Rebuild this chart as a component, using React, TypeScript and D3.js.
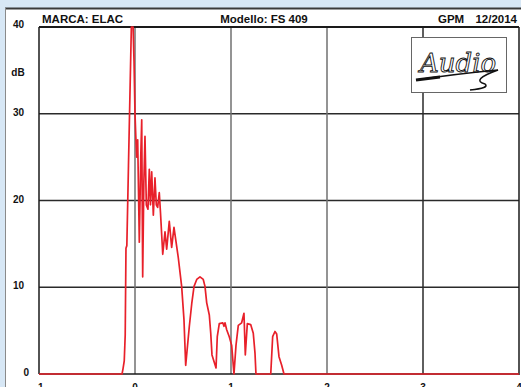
import React from "react";
import * as d3 from "d3";

const times: number[] = [
  -1, -0.135, -0.125, -0.112, -0.102, -0.094, -0.085, -0.068, -0.038, -0.02, -0.01, 0.0,
  0.008, 0.018, 0.028, 0.045, 0.06, 0.07, 0.08, 0.092, 0.104, 0.118, 0.135, 0.149, 0.161,
  0.174, 0.191, 0.208, 0.222, 0.236, 0.253, 0.266, 0.289, 0.3125, 0.33, 0.357, 0.382, 0.406,
  0.451, 0.486, 0.51, 0.528, 0.566, 0.591, 0.615, 0.643, 0.677, 0.711, 0.729, 0.747, 0.774,
  0.789, 0.802, 0.844, 0.857, 0.878, 0.914, 0.927, 0.9375, 0.955, 0.982, 1.007, 1.031, 1.052,
  1.076, 1.111, 1.135, 1.149, 1.17, 1.205, 1.232, 1.25, 1.26, 1.414, 1.434, 1.458, 1.476, 1.5,
  1.528, 1.552, 4,
];
const levels: number[] = [
  0, 0, 0.6, 1.5, 4.5, 14.5, 14.8, 24, 40, 40, 36, 30,
  27.5, 25, 27, 15.2, 25, 29.3, 11.2, 22, 27.4, 19.5, 19, 23.6, 19.5,
  23.3, 18.3, 22.6, 19.5, 19.2, 20.9, 18.5, 13.8, 16.4, 14.4, 17.6, 14.6, 16.9,
  13.4, 10.1, 6.3, 1.0, 5.5, 8.1, 10.1, 10.9, 11.2, 10.9, 10.1, 8.2, 6.8,
  4.7, 2.2, 0.7, 4.3, 5.8, 5.9, 5.5, 5.9, 5.1, 4.3, 3.3, 0, 3.3,
  5.6, 5.9, 7.0, 2.2, 5.8, 5.7, 4.7, 2.4, 0, 0, 4.3, 4.9, 4.6, 2.0,
  1.0, 0, 0,
];
const xTicks: number[] = [-1, 0, 1, 2, 3, 4];
const yTicks: number[] = [0, 10, 20, 30, 40];
const titleLeft = "MARCA: ELAC";
const titleCenter = "Modello: FS 409";
const titleRightA = "GPM";
const titleRightB = "12/2014";
const unitLabel = "dB";

export default function App() {
  const W = 521;
  const H = 387;
  const x = d3.scaleLinear().domain([-1, 4]).range([39, 519]);
  const y = d3.scaleLinear().domain([0, 40]).range([374, 27]);
  const pts: [number, number][] = times.map((t, i) => [t, levels[i]]);
  const line = d3
    .line<[number, number]>()
    .x((d) => x(d[0]))
    .y((d) => y(d[1]));
  const font = "'Liberation Sans', Arial, sans-serif";
  return (
    <svg
      width={W}
      height={H}
      style={{ position: "absolute", left: 0, top: 0, display: "block" }}
    >
      <rect x={0} y={0} width={W} height={H} fill="#d7e7f5" />
      <rect x={5} y={8} width={W} height={H} fill="#ffffff" />
      <line x1={5} x2={W} y1={8.5} y2={8.5} stroke="#3a3a3a" strokeWidth={2} />
      <line x1={5.5} x2={5.5} y1={8} y2={H} stroke="#8a8a8a" strokeWidth={1} />

      {/* horizontal grid */}
      {yTicks
        .filter((t) => t > 0 && t < 40)
        .map((t) => (
          <line
            key={"h" + t}
            x1={x(-1)}
            x2={x(4)}
            y1={y(t)}
            y2={y(t)}
            stroke="#2a2a2a"
            strokeWidth={1.5}
          />
        ))}
      {/* vertical grid */}
      {xTicks
        .filter((t) => t > -1 && t < 4)
        .map((t) => (
          <line
            key={"v" + t}
            x1={x(t)}
            x2={x(t)}
            y1={y(40)}
            y2={y(0)}
            stroke={t === 3 ? "#2a2a2a" : "#707070"}
            strokeWidth={1.5}
          />
        ))}
      {/* frame */}
      <line x1={x(-1)} x2={x(4)} y1={y(40)} y2={y(40)} stroke="#1a1a1a" strokeWidth={2} />
      <line x1={x(-1)} x2={x(-1)} y1={y(40)} y2={y(0)} stroke="#1a1a1a" strokeWidth={1.5} />
      <line x1={x(4)} x2={x(4)} y1={y(40)} y2={y(0) + 1} stroke="#1a1a1a" strokeWidth={1.5} />
      <line x1={x(-1)} x2={x(4)} y1={y(0)} y2={y(0)} stroke="#1a1a1a" strokeWidth={1.5} />

      {/* logo */}
      <g>
        <rect x={411.5} y={37.5} width={95} height={55} fill="#ffffff" stroke="#666" strokeWidth={1} />
        <text
          x={420}
          y={72}
          fontFamily="'DejaVu Serif', serif"
          fontStyle="italic"
          fontSize={26}
          fill="#ffffff"
          stroke="#111"
          strokeWidth={0.9}
        >
          Audio
        </text>
        <path
          d="M416 80 Q 455 74 498 70 Q 470 80 485 84 Q 490 88 470 90"
          fill="none"
          stroke="#111"
          strokeWidth={1.6}
        />
        <path d="M416 80 L 440 77" fill="none" stroke="#111" strokeWidth={3} />
      </g>

      {/* data */}
      <path
        d={line(pts) || ""}
        fill="none"
        stroke="#e8202a"
        strokeWidth={1.7}
        strokeLinejoin="round"
      />

      {/* titles */}
      <text x={42} y={23} fontFamily={font} fontWeight="bold" fontSize={11.5} fill="#111">
        {titleLeft}
      </text>
      <text x={264} y={23} textAnchor="middle" fontFamily={font} fontWeight="bold" fontSize={11.5} fill="#111">
        {titleCenter}
      </text>
      <text x={438} y={23} fontFamily={font} fontWeight="bold" fontSize={11.5} fill="#111">
        {titleRightA}
      </text>
      <text x={517} y={23} textAnchor="end" fontFamily={font} fontWeight="bold" fontSize={11.5} fill="#111">
        {titleRightB}
      </text>

      {/* y labels */}
      {yTicks.map((t) => (
        <text
          key={"yl" + t}
          x={t === 0 ? 29 : 24}
          y={y(t) + (t === 40 ? 1 : 2)}
          textAnchor="end"
          fontFamily={font}
          fontWeight="bold"
          fontSize={10}
          fill="#111"
        >
          {t}
        </text>
      ))}
      <text x={18} y={76} textAnchor="middle" fontFamily={font} fontWeight="bold" fontSize={10} fill="#111">
        {unitLabel}
      </text>

      {/* x labels */}
      {xTicks.map((t) => (
        <text
          key={"xl" + t}
          x={x(t)}
          y={391}
          textAnchor="middle"
          fontFamily={font}
          fontWeight="bold"
          fontSize={10}
          fill="#111"
        >
          {t}
        </text>
      ))}
    </svg>
  );
}
